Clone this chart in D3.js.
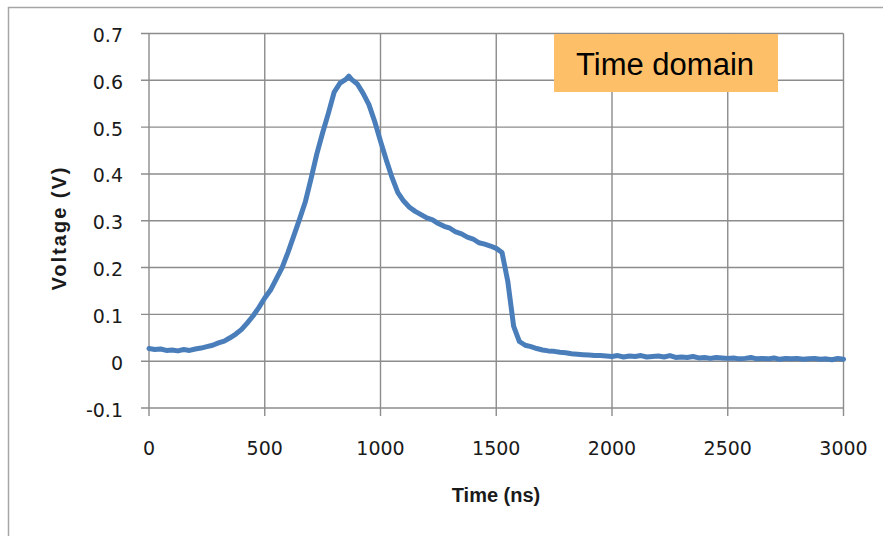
<!DOCTYPE html>
<html>
<head>
<meta charset="utf-8">
<script src="https://cdn.jsdelivr.net/npm/d3@7"></script>
<style>
html,body{margin:0;padding:0;background:#fff;}
svg{display:block;}
</style>
</head>
<body>
<svg id="chart" width="883" height="536"></svg>
<script>
// ---- data ----
const times = [0,25,50,75,100,125,150,175,200,225,250,275,300,325,350,375,400,425,450,475,
  500,525,550,575,600,625,650,675,700,725,750,775,800,825,850,863,875,900,925,950,975,
  1000,1025,1050,1075,1100,1125,1150,1175,1200,1225,1250,1275,1300,1325,1350,1375,1400,1425,1450,1475,
  1500,1525,1550,1575,1600,1625,1650,1675,1700,1725,1750,1775,1800,1825,1850,1875,1900,1925,1950,1975,
  2000,2025,2050,2075,2100,2125,2150,2175,2200,2225,2250,2275,2300,2325,2350,2375,2400,2425,2450,2475,
  2500,2525,2550,2575,2600,2625,2650,2675,2700,2725,2750,2775,2800,2825,2850,2875,2900,2925,2950,2975,3000];
const voltages = [0.027,0.025,0.026,0.023,0.024,0.022,0.025,0.023,0.026,0.028,0.031,0.034,0.039,0.043,0.050,0.058,0.068,0.082,0.097,0.115,
  0.135,0.152,0.176,0.200,0.232,0.267,0.303,0.340,0.390,0.443,0.488,0.530,0.575,0.594,0.602,0.609,0.602,0.592,0.572,0.548,0.512,
  0.470,0.430,0.392,0.360,0.342,0.329,0.320,0.313,0.306,0.302,0.294,0.288,0.284,0.276,0.272,0.265,0.261,0.253,0.250,0.246,
  0.241,0.232,0.170,0.075,0.042,0.034,0.031,0.027,0.024,0.022,0.021,0.019,0.018,0.016,0.015,0.014,0.013,0.012,0.012,0.011,
  0.010,0.012,0.009,0.011,0.010,0.012,0.009,0.010,0.011,0.009,0.012,0.008,0.009,0.008,0.010,0.007,0.008,0.006,0.008,0.007,
  0.006,0.007,0.005,0.006,0.008,0.005,0.006,0.005,0.007,0.004,0.006,0.005,0.006,0.004,0.005,0.006,0.004,0.005,0.003,0.006,0.004];
const xTicks = [0,500,1000,1500,2000,2500,3000];
const yTicks = [-0.1,0,0.1,0.2,0.3,0.4,0.5,0.6,0.7];
const xTitle = "Time (ns)";
const yTitle = "Voltage (V)";
const legendText = "Time domain";

// ---- drawing ----
const svg = d3.select("#chart");
const x = d3.scaleLinear().domain([0,3000]).range([149,843.5]);
const y = d3.scaleLinear().domain([-0.1,0.7]).range([408,33.5]);

// outer chart frame
svg.append("rect").attr("x",8.5).attr("y",7.5).attr("width",900).attr("height",600)
  .attr("fill","none").attr("stroke","#a6a6a6").attr("stroke-width",1.5);

const gridColor = "#8c8c8c";
const g = svg.append("g");
// horizontal gridlines
g.selectAll("line.h").data(yTicks).enter().append("line")
  .attr("x1",x(0)-8).attr("x2",x(3000))
  .attr("y1",d=>y(d)).attr("y2",d=>y(d))
  .attr("stroke",gridColor).attr("stroke-width",1.4);
// vertical gridlines
g.selectAll("line.v").data(xTicks).enter().append("line")
  .attr("x1",d=>x(d)).attr("x2",d=>x(d))
  .attr("y1",y(0.7)).attr("y2",y(-0.1)+8)
  .attr("stroke",gridColor).attr("stroke-width",1.4);

// tick labels
const tickFont = "'DejaVu Sans', sans-serif";
svg.selectAll("text.yt").data(yTicks).enter().append("text")
  .attr("x",123).attr("y",d=>y(d)+8.5)
  .attr("text-anchor","end").attr("font-family",tickFont).attr("font-size",19)
  .attr("fill","#1a1a1a")
  .text(d=>d3.format(".1~f")(d).replace("−","-"));
svg.selectAll("text.xt").data(xTicks).enter().append("text")
  .attr("x",d=>x(d)).attr("y",455)
  .attr("text-anchor","middle").attr("font-family",tickFont).attr("font-size",19)
  .attr("fill","#1a1a1a")
  .text(d=>d);

// axis titles
svg.append("text").attr("x",496).attr("y",502)
  .attr("text-anchor","middle").attr("font-family","'Liberation Sans', Arial, sans-serif")
  .attr("font-weight","bold").attr("font-size",20).attr("fill","#1a1a1a").text(xTitle);
svg.append("text").attr("transform","translate(66,228) rotate(-90)")
  .attr("text-anchor","middle").attr("font-family","'Liberation Sans', Arial, sans-serif")
  .attr("font-weight","bold").attr("font-size",20).attr("letter-spacing",2)
  .attr("fill","#1a1a1a").text(yTitle);

// data line
const data = times.map((t,i)=>({t:t,v:voltages[i]}));
svg.append("path").datum(data)
  .attr("d",d3.line().x(d=>x(d.t)).y(d=>y(d.v)))
  .attr("fill","none").attr("stroke","#4a7ebb").attr("stroke-width",5)
  .attr("stroke-linejoin","round").attr("stroke-linecap","round");

// legend box
svg.append("rect").attr("x",554).attr("y",34).attr("width",224).attr("height",58)
  .attr("fill","#fdc068");
svg.append("text").attr("x",576).attr("y",75)
  .attr("font-family","'Liberation Sans', Arial, sans-serif").attr("font-size",31)
  .attr("fill","#000").text(legendText);
</script>
</body>
</html>
